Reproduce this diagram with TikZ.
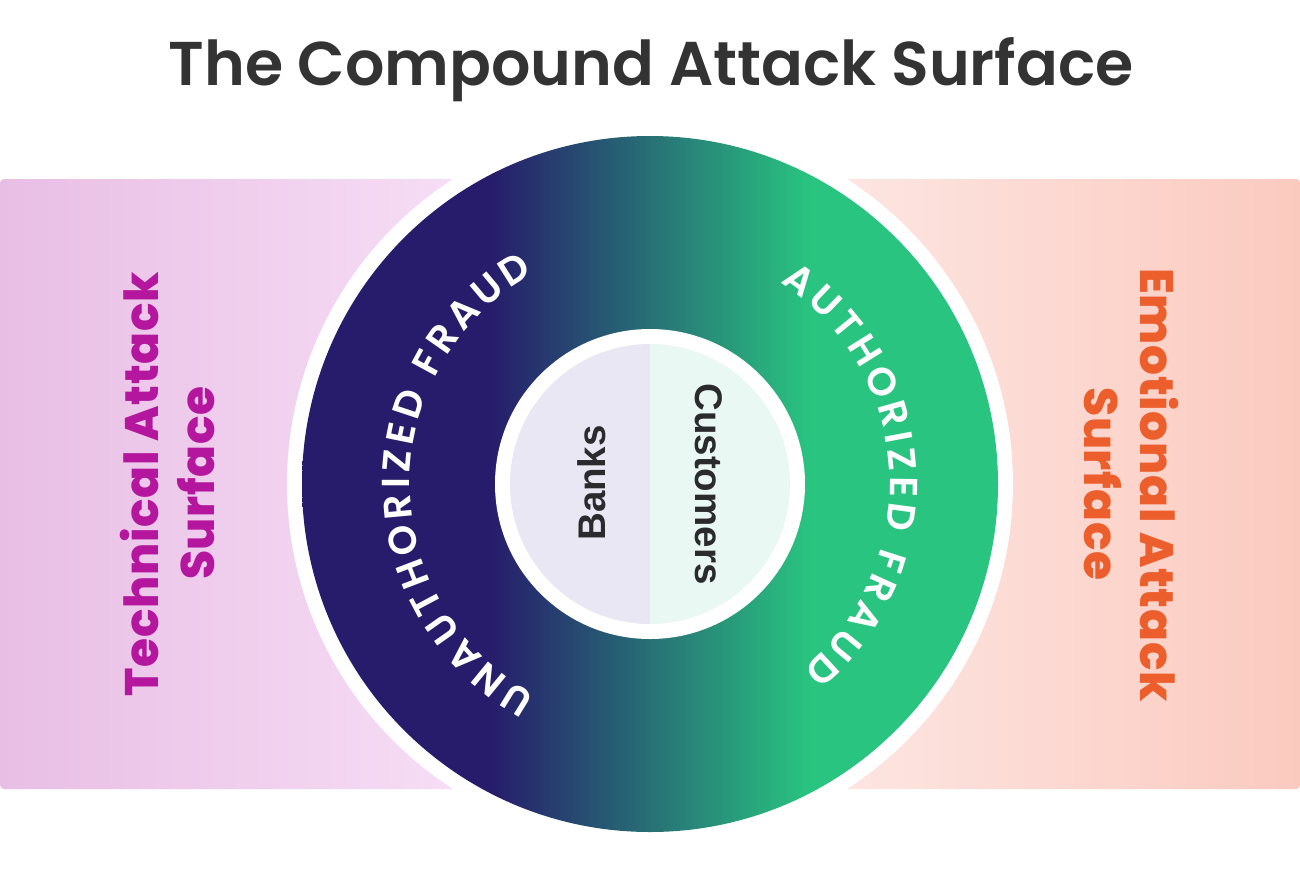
\documentclass[tikz,border=0pt]{standalone}
\usepackage{fontspec}
\usetikzlibrary{decorations.text}
\setmainfont{Poppins}
\newfontfamily\titlefont{Poppins SemiBold}
\newfontfamily\arcfont{Poppins SemiBold}
\newfontfamily\sidefont{Poppins ExtraBold}[LetterSpace=1.5]
\newfontfamily\corefont{Liberation Sans}[UprightFont=* Bold]
\definecolor{navy}{HTML}{261C6B}
\definecolor{grn}{HTML}{29C480}
\definecolor{inkdark}{HTML}{333333}
\definecolor{coreink}{HTML}{2B2B2E}
\definecolor{leftA}{HTML}{E8BEE5}
\definecolor{leftB}{HTML}{F7DEF5}
\definecolor{rightA}{HTML}{FDE6E2}
\definecolor{rightB}{HTML}{FBCABF}
\definecolor{bankfill}{HTML}{E9E7F3}
\definecolor{custfill}{HTML}{E9F8F3}
\definecolor{magentaink}{HTML}{B5169E}
\definecolor{orangeink}{HTML}{EC5E2B}
\pgfdeclarehorizontalshading{ringshade}{100bp}{color(0bp)=(navy); color(38.5bp)=(navy); color(61.5bp)=(grn); color(100bp)=(grn)}
\tikzset{
  x=1pt,y=1pt,
  disc/.style={circle,inner sep=0pt,outer sep=0pt,minimum size=#1},
  sidelabel/.style={font=\sidefont\fontsize{47}{47}\selectfont,inner sep=0pt,anchor=center},
  corelabel/.style={font=\corefont\fontsize{38.5}{38.5}\selectfont,text=coreink,inner sep=0pt,anchor=center},
  arclabel/.style={decorate,decoration={text along path,raise=0pt,text color=white,
     text align={fit to path},text={|\arcfont\fontsize{39}{39}\selectfont|#1}}}
}
\begin{document}
\begin{tikzpicture}
\useasboundingbox (0,0) rectangle (1300,-873);
\fill[white] (0,0) rectangle (1300,-873);
\coordinate (C) at (650,-484);
% side bands
\shade[left color=leftA,right color=leftB,rounded corners=4pt] (0,-179) rectangle (470,-789);
\shade[left color=rightA,right color=rightB,rounded corners=4pt] (830,-179) rectangle (1300,-789);
% rings
\node[disc=726pt,fill=white] (halo) at (C) {};
\node[disc=696pt,shading=ringshade] (ring) at (C) {};
\node[disc=310pt,fill=white] (corehalo) at (C) {};
% inner halves
\fill[bankfill] (650,-344) arc (90:270:140) -- cycle;
\fill[custfill] (650,-344) arc (90:-90:140) -- cycle;
% curved labels
\path[arclabel={UNAUTHORIZED FRAUD}] ([shift={(241.5:240)}]C) arc (241.5:119:240);
\path[arclabel={AUTHORIZED FRAUD}] ([shift={(57:240)}]C) arc (57:-50.5:240);
% title
\node[font=\titlefont\fontsize{61.8}{61.8}\selectfont,text=inkdark,inner sep=0pt] (title) at (651,-70) {The Compound Attack Surface};
% side labels
\node[sidelabel,text=magentaink,rotate=90] (techA) at (140,-484) {Technical Attack};
\node[sidelabel,text=magentaink,rotate=90] (techB) at (196,-483) {Surface};
\node[sidelabel,text=orangeink,rotate=-90] (emoA) at (1159,-485) {Emotional Attack};
\node[sidelabel,text=orangeink,rotate=-90] (emoB) at (1103,-484) {Surface};
% core labels
\node[corelabel,rotate=90] (banks) at (592,-483) {Banks};
\node[corelabel,rotate=-90] (cust) at (709,-484) {Customers};
\end{tikzpicture}
\end{document}
